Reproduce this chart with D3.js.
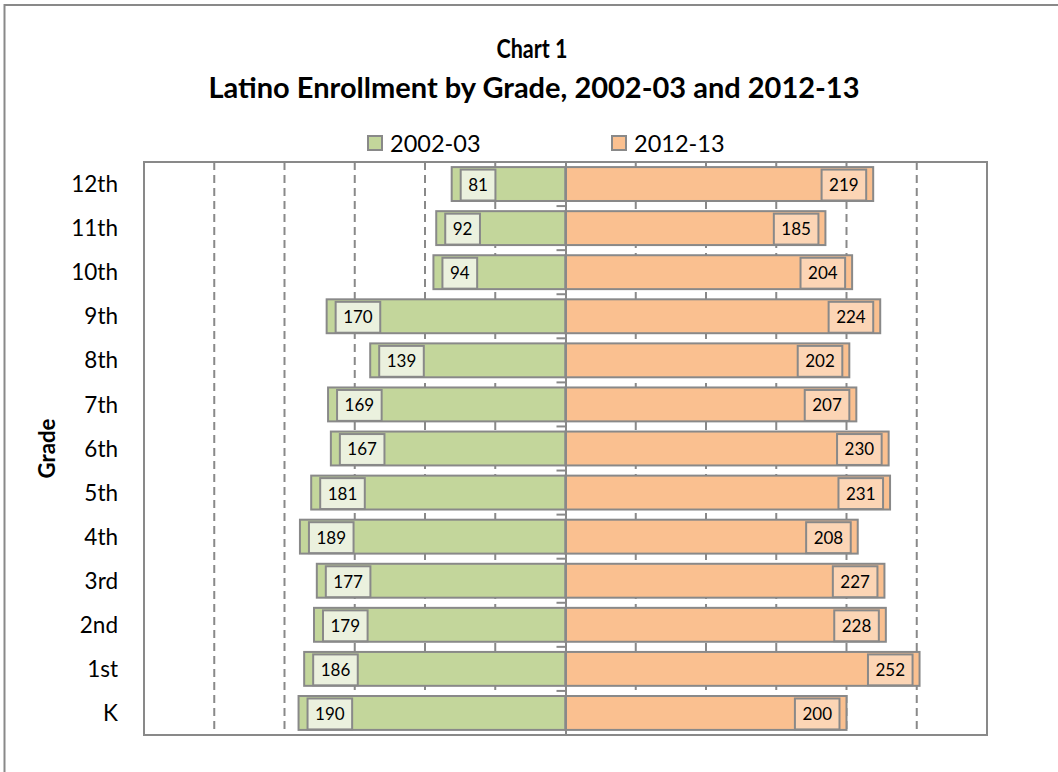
<!doctype html>
<html lang="en">
<head>
  <meta charset="utf-8">
  <title>Latino Enrollment by Grade</title>
  <style>
    body { margin: 0; background: #fff; }
    text { font-family: Lato, "Open Sans", sans-serif; fill: #000; }
  </style>
</head>
<body>
  <svg></svg>
  <script src="https://cdn.jsdelivr.net/npm/d3@7"></script>
  <script>
    // data
    var grades = ['12th', '11th', '10th', '9th', '8th', '7th', '6th', '5th', '4th', '3rd', '2nd', '1st', 'K'];
    var enroll0203 = [81, 92, 94, 170, 139, 169, 167, 181, 189, 177, 179, 186, 190];
    var enroll1213 = [219, 185, 204, 224, 202, 207, 230, 231, 208, 227, 228, 252, 200];
    var seriesNames = ['2002-03', '2012-13'];
    var gridValues = [-250, -200, -150, -100, -50, 50, 100, 150, 200, 250, 300];

    var width = 1058;
    var height = 772;
    var grey = '#898989';
    var greenFill = '#C3D69B', greenLabel = '#EBF1DE';
    var orangeFill = '#FAC090', orangeLabel = '#FCD5B5';

    var svg = d3.select('svg')
      .attr('width', width)
      .attr('height', height);

    // outer chart frame (runs off the page on the right and bottom)
    svg.append('rect')
      .attr('x', 4.5).attr('y', 5)
      .attr('width', width + 20).attr('height', height + 20)
      .attr('fill', '#fff')
      .attr('stroke', grey).attr('stroke-width', 2);

    // plot area
    var plotL = 144, plotR = 987, plotT = 162, plotB = 735;

    var x = d3.scaleLinear()
      .domain([-300, 300])
      .range([plotL, plotR]);

    // gap width 30%, like the spreadsheet
    var y = d3.scaleBand()
      .domain(grades)
      .range([plotT, plotB])
      .paddingInner(0.3 / 1.3)
      .paddingOuter(0.15 / 1.3);

    // dashed gridlines
    svg.append('g').selectAll('line').data(gridValues).enter()
      .append('line')
      .attr('x1', d => x(d)).attr('x2', d => x(d))
      .attr('y1', plotT).attr('y2', plotB)
      .attr('stroke', grey)
      .attr('stroke-width', 2)
      .attr('stroke-dasharray', '8,5');

    svg.append('rect')
      .attr('x', plotL).attr('y', plotT)
      .attr('width', plotR - plotL).attr('height', plotB - plotT)
      .attr('fill', 'none')
      .attr('stroke', grey).attr('stroke-width', 2);

    // bars
    var rows = grades.map((g, i) => ({ grade: g, a: enroll0203[i], b: enroll1213[i] }));

    var bars = svg.append('g');
    bars.selectAll('.old').data(rows).enter()
      .append('rect')
      .attr('class', 'old')
      .attr('x', d => x(-d.a))
      .attr('y', d => y(d.grade))
      .attr('width', d => x(0) - x(-d.a))
      .attr('height', y.bandwidth())
      .attr('fill', greenFill)
      .attr('stroke', grey).attr('stroke-width', 2);

    bars.selectAll('.new').data(rows).enter()
      .append('rect')
      .attr('class', 'new')
      .attr('x', x(0))
      .attr('y', d => y(d.grade))
      .attr('width', d => x(d.b) - x(0))
      .attr('height', y.bandwidth())
      .attr('fill', orangeFill)
      .attr('stroke', grey).attr('stroke-width', 2);

    // category axis at zero, ticks pointing left, labels at the low side
    var axis = d3.axisLeft(y).tickSize(0).tickFormat('');
    var axisG = svg.append('g')
      .attr('transform', 'translate(' + x(0) + ',0)')
      .call(axis);
    axisG.select('.domain').attr('stroke', grey).attr('stroke-width', 2);

    var step = y.step();
    svg.append('g').selectAll('line').data(d3.range(grades.length + 1)).enter()
      .append('line')
      .attr('x1', x(0) - 9).attr('x2', x(0))
      .attr('y1', i => plotT + i * step).attr('y2', i => plotT + i * step)
      .attr('stroke', grey).attr('stroke-width', 2);

    svg.append('g').selectAll('text').data(grades).enter()
      .append('text')
      .attr('x', 118)
      .attr('y', d => y(d) + y.bandwidth() / 2)
      .attr('dy', '0.36em')
      .attr('text-anchor', 'end')
      .attr('font-size', 22.5)
      .text(d => d);

    // data labels in boxes near the outer end of each bar
    function addLabels(values, side) {
      var g = svg.append('g');
      values.forEach(function (v, i) {
        var by = y(grades[i]);
        var h = y.bandwidth();
        var lg = g.append('g');
        var box = lg.append('rect');
        var t = lg.append('text')
          .attr('font-size', 17)
          .attr('text-anchor', 'middle')
          .attr('dy', '0.35em')
          .text(v);
        var w = t.node().getComputedTextLength() + 15;
        var bx = side < 0 ? x(-v) + 9 : x(v) - 7 - w;
        box.attr('x', bx).attr('y', by + 2.5)
          .attr('width', w).attr('height', h - 3)
          .attr('fill', side < 0 ? greenLabel : orangeLabel)
          .attr('stroke', grey).attr('stroke-width', 2);
        t.attr('x', bx + w / 2).attr('y', by + 1 + h / 2);
      });
    }
    addLabels(enroll0203, -1);
    addLabels(enroll1213, 1);

    // titles
    svg.append('text')
      .attr('x', 532).attr('y', 58)
      .attr('text-anchor', 'middle')
      .attr('font-size', 27).attr('font-weight', 'bold')
      .attr('textLength', 71).attr('lengthAdjust', 'spacingAndGlyphs')
      .text('Chart 1');
    svg.append('text')
      .attr('x', 534).attr('y', 98)
      .attr('text-anchor', 'middle')
      .attr('font-size', 29).attr('font-weight', 'bold')
      .text('Latino Enrollment by Grade, 2002-03 and 2012-13');

    svg.append('text')
      .attr('transform', 'translate(55,' + ((plotT + plotB) / 2) + ') rotate(-90)')
      .attr('text-anchor', 'middle')
      .attr('font-size', 22).attr('font-weight', 'bold')
      .attr('textLength', 60).attr('lengthAdjust', 'spacingAndGlyphs')
      .text('Grade');

    // legend
    var legendX = [368, 612];
    var legendFill = [greenFill, orangeFill];
    var legend = svg.append('g');
    seriesNames.forEach(function (name, i) {
      legend.append('rect')
        .attr('x', legendX[i]).attr('y', 136)
        .attr('width', 14).attr('height', 14)
        .attr('fill', legendFill[i])
        .attr('stroke', grey).attr('stroke-width', 2);
      legend.append('text')
        .attr('x', legendX[i] + 22).attr('y', 152)
        .attr('font-size', 23.5)
        .text(name);
    });
  </script>
</body>
</html>
